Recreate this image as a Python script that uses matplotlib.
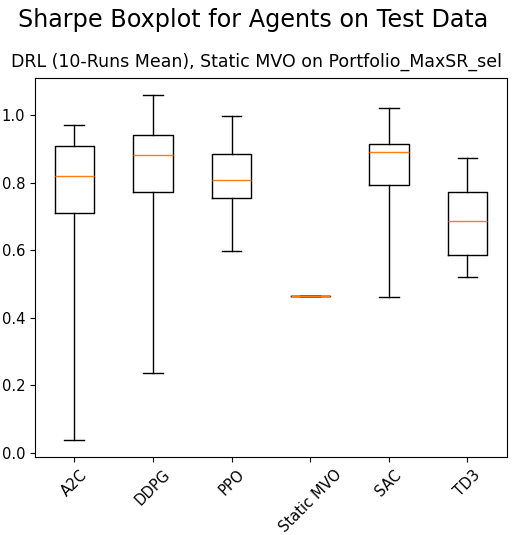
import matplotlib
matplotlib.use("Agg")
import matplotlib.pyplot as plt

agents = ["A2C", "DDPG", "PPO", "Static MVO", "SAC", "TD3"]
whislo = [0.037, 0.235, 0.599, 0.464, 0.460, 0.520]
q1     = [0.709, 0.772, 0.756, 0.464, 0.792, 0.587]
med    = [0.819, 0.881, 0.809, 0.464, 0.892, 0.686]
q3     = [0.908, 0.941, 0.885, 0.464, 0.915, 0.772]
whishi = [0.971, 1.059, 0.998, 0.464, 1.021, 0.872]

plt.rcParams["font.size"] = 10.6
plt.rcParams["lines.linewidth"] = 1.1

stats = []
for i in range(len(agents)):
    stats.append({"label": agents[i], "whislo": whislo[i], "q1": q1[i],
                  "med": med[i], "q3": q3[i], "whishi": whishi[i], "fliers": []})

fig, ax = plt.subplots(figsize=(5.14, 5.35), dpi=100)
ax.bxp(stats, showfliers=False)
# title sits centred on the figure, not the axes
ax.set_title("DRL (10-Runs Mean), Static MVO on Portfolio_MaxSR_sel",
             fontsize=12.5, pad=8, x=0.47)
fig.suptitle("Sharpe Boxplot for Agents on Test Data", fontsize=17.2, y=0.985, x=0.492)
plt.setp(ax.get_xticklabels(), rotation=45)
fig.subplots_adjust(left=0.068, right=0.986, top=0.854, bottom=0.145)
fig.savefig("out.png")
